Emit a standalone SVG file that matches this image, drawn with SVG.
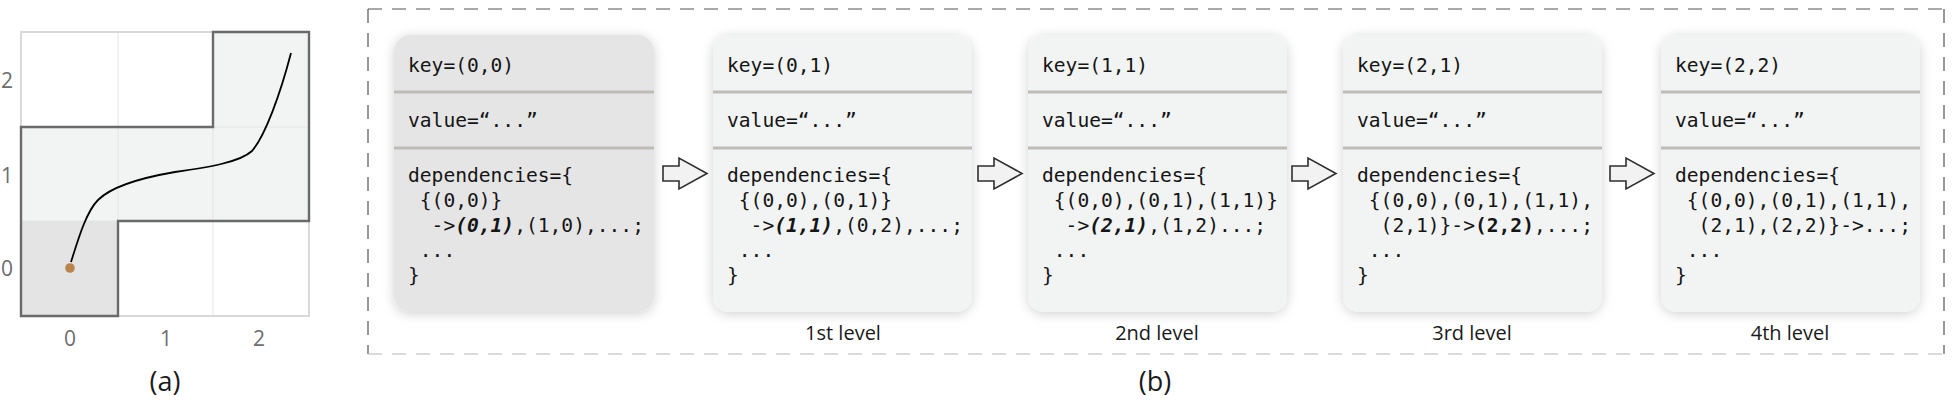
<svg xmlns="http://www.w3.org/2000/svg" width="1956" height="403" viewBox="0 0 1956 403">
<style>
.mono{font-family:"DejaVu Sans Mono","Liberation Mono",monospace;font-size:19.6px;fill:#151515}
.bi{font-weight:bold;font-style:italic}
.b{font-weight:bold}
.lbl{font-family:"Open Sans","Noto Sans",sans-serif;font-size:20px;fill:#1a1a1a;text-anchor:middle}
.cap{font-family:"Open Sans","Noto Sans",sans-serif;font-size:27px;fill:#1a1a1a;text-anchor:middle}
.ax{font-family:"Open Sans","Noto Sans",sans-serif;font-size:21px;fill:#6d6d6d}
.node{fill:#f2f3f3;filter:url(#sh)}
.node.dark{fill:#e5e5e5}
.div{stroke:#bdbcb8;stroke-width:3}
.arrow{fill:#f2f2f2;stroke:#2f2f2f;stroke-width:1.6;stroke-linejoin:miter}
</style>
<defs>
<filter id="sh" x="-20%" y="-20%" width="140%" height="140%">
<feDropShadow dx="0" dy="2" stdDeviation="6" flood-color="#000" flood-opacity="0.18"/>
</filter>
<path id="arr" d="M0,-7.5 H16 V-15.5 L44,0 L16,15.5 V7.5 H0 Z"/>
</defs>
<rect width="1956" height="403" fill="#fff"/>

<!-- panel (a) -->
<g id="panel-a">
<polygon points="21,127 213,127 213,32 309,32 309,221 118,221 118,316 21,316" fill="#f2f3f3"/>
<rect x="21" y="221" width="97" height="95" fill="#e4e4e4"/>
<g stroke="#e4e4e4" stroke-width="1">
<line x1="118" y1="32" x2="118" y2="316"/>
<line x1="213" y1="32" x2="213" y2="316"/>
<line x1="21" y1="127" x2="309" y2="127"/>
<line x1="21" y1="221" x2="309" y2="221"/>
</g>
<rect x="21" y="32" width="288" height="284" fill="none" stroke="#d9d9d9" stroke-width="2"/>
<polygon points="21,127 213,127 213,32 309,32 309,221 118,221 118,316 21,316" fill="none" stroke="#6a6a68" stroke-width="2.4"/>
<path d="M71,262 C78,240 86,212 98,200 C112,186 140,178 175,172 C210,167 240,162 252,151 C265,136 280,95 291,53" fill="none" stroke="#000" stroke-width="1.8"/>
<circle cx="70" cy="268" r="4.8" fill="#b9854d"/>
<text class="ax" x="13" y="88" text-anchor="end">2</text>
<text class="ax" x="13" y="183" text-anchor="end">1</text>
<text class="ax" x="13" y="276" text-anchor="end">0</text>
<text class="ax" x="70" y="346" text-anchor="middle">0</text>
<text class="ax" x="166" y="346" text-anchor="middle">1</text>
<text class="ax" x="259" y="346" text-anchor="middle">2</text>
<text class="cap" x="165" y="391">(a)</text>
</g>

<!-- panel (b) frame -->
<g id="frame" fill="none" stroke-width="1.2" stroke-dasharray="14 10">
<line x1="368" y1="9" x2="1944" y2="9" stroke="#555"/>
<line x1="368" y1="9" x2="368" y2="354" stroke="#555"/>
<line x1="1944" y1="9" x2="1944" y2="354" stroke="#555"/>
<line x1="368" y1="354" x2="1944" y2="354" stroke="#b5b5b5"/>
</g>
<text class="cap" x="1155" y="391">(b)</text>

<!-- nodes -->
<g id="node-00">
<rect class="node dark" x="394" y="35" width="260" height="277" rx="16"/>
<line class="div" x1="394" y1="92" x2="654" y2="92"/>
<line class="div" x1="394" y1="148" x2="654" y2="148"/>
<text class="mono" x="408" y="72">key=(0,0)</text>
<text class="mono" x="408" y="127">value=“...”</text>
<text class="mono" x="408" y="182">dependencies={</text>
<text class="mono" x="419.8" y="207">{(0,0)}</text>
<text class="mono" x="431.6" y="232">-&gt;<tspan class="bi">(0,1)</tspan>,(1,0),...;</text>
<text class="mono" x="419.8" y="257">...</text>
<text class="mono" x="408" y="282">}</text>
</g>

<g id="node-01">
<rect class="node" x="713" y="35" width="259" height="277" rx="16"/>
<line class="div" x1="713" y1="92" x2="972" y2="92"/>
<line class="div" x1="713" y1="148" x2="972" y2="148"/>
<text class="mono" x="727" y="72">key=(0,1)</text>
<text class="mono" x="727" y="127">value=“...”</text>
<text class="mono" x="727" y="182">dependencies={</text>
<text class="mono" x="738.8" y="207">{(0,0),(0,1)}</text>
<text class="mono" x="750.6" y="232">-&gt;<tspan class="bi">(1,1)</tspan>,(0,2),...;</text>
<text class="mono" x="738.8" y="257">...</text>
<text class="mono" x="727" y="282">}</text>
<text class="lbl" x="843" y="340">1st level</text>
</g>

<g id="node-11">
<rect class="node" x="1028" y="35" width="259" height="277" rx="16"/>
<line class="div" x1="1028" y1="92" x2="1287" y2="92"/>
<line class="div" x1="1028" y1="148" x2="1287" y2="148"/>
<text class="mono" x="1042" y="72">key=(1,1)</text>
<text class="mono" x="1042" y="127">value=“...”</text>
<text class="mono" x="1042" y="182">dependencies={</text>
<text class="mono" x="1053.8" y="207">{(0,0),(0,1),(1,1)}</text>
<text class="mono" x="1065.6" y="232">-&gt;<tspan class="bi">(2,1)</tspan>,(1,2)...;</text>
<text class="mono" x="1053.8" y="257">...</text>
<text class="mono" x="1042" y="282">}</text>
<text class="lbl" x="1157" y="340">2nd level</text>
</g>

<g id="node-21">
<rect class="node" x="1343" y="35" width="259" height="277" rx="16"/>
<line class="div" x1="1343" y1="92" x2="1602" y2="92"/>
<line class="div" x1="1343" y1="148" x2="1602" y2="148"/>
<text class="mono" x="1357" y="72">key=(2,1)</text>
<text class="mono" x="1357" y="127">value=“...”</text>
<text class="mono" x="1357" y="182">dependencies={</text>
<text class="mono" x="1368.8" y="207">{(0,0),(0,1),(1,1),</text>
<text class="mono" x="1380.6" y="232">(2,1)}-&gt;<tspan class="b">(2,2)</tspan>,...;</text>
<text class="mono" x="1368.8" y="257">...</text>
<text class="mono" x="1357" y="282">}</text>
<text class="lbl" x="1472" y="340">3rd level</text>
</g>

<g id="node-22">
<rect class="node" x="1661" y="35" width="259" height="277" rx="16"/>
<line class="div" x1="1661" y1="92" x2="1920" y2="92"/>
<line class="div" x1="1661" y1="148" x2="1920" y2="148"/>
<text class="mono" x="1675" y="72">key=(2,2)</text>
<text class="mono" x="1675" y="127">value=“...”</text>
<text class="mono" x="1675" y="182">dependencies={</text>
<text class="mono" x="1686.8" y="207">{(0,0),(0,1),(1,1),</text>
<text class="mono" x="1698.6" y="232">(2,1),(2,2)}-&gt;...;</text>
<text class="mono" x="1686.8" y="257">...</text>
<text class="mono" x="1675" y="282">}</text>
<text class="lbl" x="1790" y="340">4th level</text>
</g>

<!-- connectors -->
<g id="connectors">
<use href="#arr" class="arrow" x="663" y="173.5"/>
<use href="#arr" class="arrow" x="978" y="173.5"/>
<use href="#arr" class="arrow" x="1292" y="173.5"/>
<use href="#arr" class="arrow" x="1610" y="173.5"/>
</g>
</svg>
